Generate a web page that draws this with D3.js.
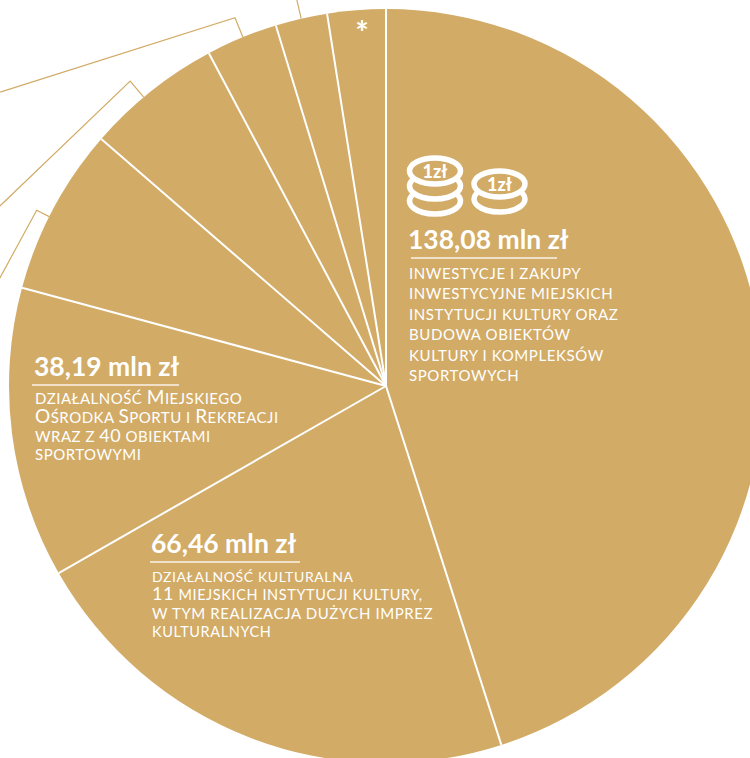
<!DOCTYPE html>
<html><head><meta charset="utf-8">
<script src="https://cdn.jsdelivr.net/npm/d3@7"></script>
<style>html,body{margin:0;padding:0;background:#fff;overflow:hidden}svg{display:block}text{font-family:Lato,"Open Sans",sans-serif;fill:#fff}</style>
</head><body><svg id="c" width="750" height="758"></svg>
<script>
const categories = ["Inwestycje i zakupy","Działalność kulturalna","Działalność MOSiR","Pozycja 4","Pozycja 5","Pozycja 6","Pozycja 7","Pozycja *"];
const values = [138.08,66.46,38.19,22.0,17.9,9.4,6.8,7.66];
const amounts = ["138,08 mln zł","66,46 mln zł","38,19 mln zł"];
const desc1 = ["INWESTYCJE I ZAKUPY","INWESTYCYJNE MIEJSKICH","INSTYTUCJI KULTURY ORAZ","BUDOWA OBIEKTÓW","KULTURY I KOMPLEKSÓW","SPORTOWYCH"];
const desc2 = [[["DZIAŁALNOŚĆ KULTURALNA",14]],[["11",18],[" MIEJSKICH INSTYTUCJI KULTURY,",14.5]],[["W TYM REALIZACJA DUŻYCH IMPREZ",15]],[["KULTURALNYCH",14.5]]];
const desc3 = [[["DZIAŁALNOŚĆ ",15],["M",19],["IEJSKIEGO",15]],[["O",19],["ŚRODKA ",15],["S",19],["PORTU I ",15],["R",19],["EKREACJI",15]],[["WRAZ Z ",15],["40",18],[" OBIEKTAMI",15]],[["SPORTOWYMI",15]]];
const gold = "#d2ab66";
const cx = 386, cy = 386, R = 377;
const svg = d3.select("#c");
const pie = d3.pie().sort(null).value(d => d);
const arcs = pie(values);
const arc = d3.arc().innerRadius(0).outerRadius(R);
const g = svg.append("g").attr("transform",`translate(${cx},${cy})`);
const rad = d => d*Math.PI/180;

// leaders: [start angle, elbow radius, end angle, end radius] in degrees and pixels
const leaders = [[296.7,391,285.6,401],[320,398,295,426],[337.7,398,307.3,485],[347,396,347,397]];
leaders.forEach(([sa,er,ea,rr])=>{
  const pts = [d3.pointRadial(rad(sa),R), d3.pointRadial(rad(sa),er), d3.pointRadial(rad(ea),rr)];
  g.append("path").attr("d",d3.line()(pts)).attr("fill","none").attr("stroke",gold).attr("stroke-width",1.2);
});
g.selectAll("path.s").data(arcs).join("path").attr("class","s").attr("d",arc).attr("fill",gold);
g.selectAll("line.sep").data(arcs).join("line").attr("class","sep")
  .attr("x2",d=>d3.pointRadial(d.startAngle,R)[0]).attr("y2",d=>d3.pointRadial(d.startAngle,R)[1])
  .attr("stroke","#fff").attr("stroke-width",2);

function block(x,yAmt,amount,rx0,rx1,ry,lines,ys,lsp){
  svg.append("text").attr("x",x).attr("y",yAmt).attr("font-size",26.5).attr("font-weight",700).text(amount);
  svg.append("line").attr("x1",rx0).attr("x2",rx1).attr("y1",ry).attr("y2",ry).attr("stroke","#fff").attr("stroke-opacity",.85).attr("stroke-width",1.5);
  lines.forEach((l,i)=>{
    const t = svg.append("text").attr("x",x+1).attr("y",ys[i]).attr("letter-spacing",lsp);
    (Array.isArray(l)?l:[[l,15]]).forEach(([s,f])=>t.append("tspan").attr("font-size",f).text(s));
  });
}
block(408,249,amounts[0],411,557,258,desc1,[279,299,320,340,361,381],0.6);
block(151,553,amounts[1],150,300,562,desc2,[582,600,619,637],0.6);
block(34,376,amounts[2],32,179,385,desc3,[404,423,442,460],0.5);

svg.append("text").attr("x",362).attr("y",45).attr("text-anchor","middle").attr("font-size",32).attr("font-weight",700).text("*");

function coins(cxx,cyy,n){
  const c = svg.append("g").attr("transform",`translate(${cxx},${cyy})`).attr("fill","none").attr("stroke","#fff").attr("stroke-width",5.5).attr("stroke-linecap","round");
  const rx=25.5, ry=13, a=rad(25);
  for(let k=1;k<=n;k++){
    const y0=k*15-ry*Math.sin(a), x0=rx*Math.cos(a);
    c.append("path").attr("d",`M${-x0},${y0} A${rx},${ry} 0 1 0 ${x0},${y0}`);
  }
  c.append("ellipse").attr("rx",rx).attr("ry",ry);
  svg.append("text").attr("x",cxx).attr("y",cyy+6.5).attr("text-anchor","middle").attr("font-size",18).attr("font-weight",900).text("1zł");
}
coins(435,171,2);
coins(499.5,184,1);
</script></body></html>
